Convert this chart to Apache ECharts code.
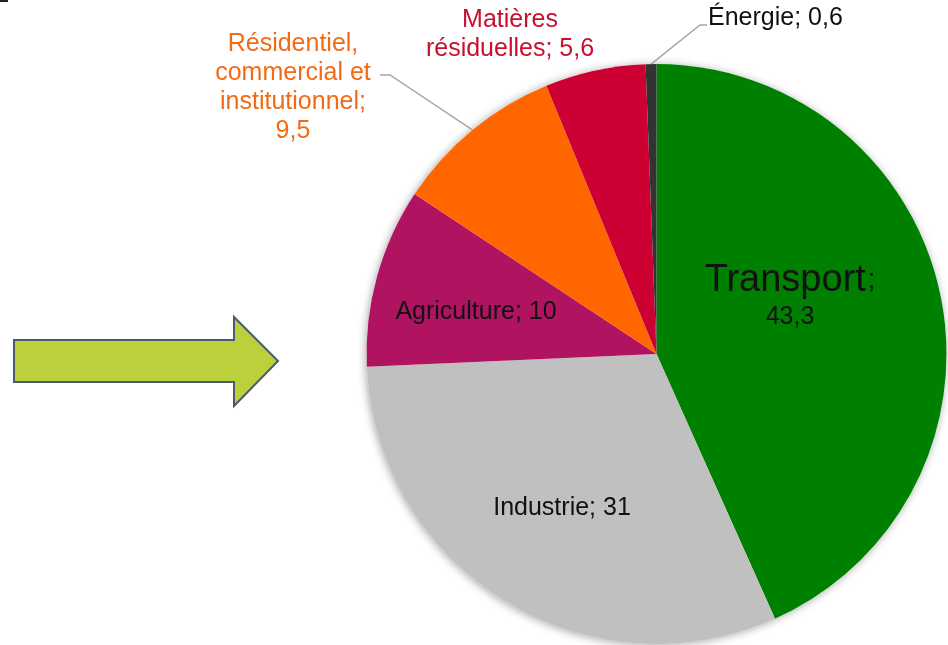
<!DOCTYPE html>
<html>
<head>
<meta charset="utf-8">
<script src="https://cdn.jsdelivr.net/npm/echarts@6/dist/echarts.min.js"></script>
<style>
  html, body { margin: 0; padding: 0; background: #fff; }
  #chart { width: 948px; height: 645px; }
</style>
</head>
<body>
<div id="chart"></div>
<script>
// données (Mt éq. CO2, %)
const categories = ['Transport', 'Industrie', 'Agriculture', 'Résidentiel, commercial et institutionnel', 'Matières résiduelles', 'Énergie'];
const values = [43.3, 31, 10, 9.5, 5.6, 0.6];
const colors = ['#008000', '#C0C0C0', '#B0135F', '#FF6600', '#CC0033', '#333333'];
const labelColors = ['#111', '#111', '#111', '#F46A12', '#C8102E', '#111'];
const outsideIdx = [3, 4, 5];

const FONT = '"Liberation Sans", Arial, sans-serif';

const chart = echarts.init(document.getElementById('chart'), null, { renderer: 'canvas' });

// position des étiquettes (ancre) pour chaque tranche
const labelSpots = {
  0: { x: 790, y: 296, align: 'center' },
  1: { x: 562, y: 508, align: 'center' },
  2: { x: 476, y: 312, align: 'center' },
  3: { x: 293, y: 88, align: 'center' },
  4: { x: 510, y: 35, align: 'center' },
  5: { x: 708, y: 18, align: 'left' },
};

function fmtLabel(p) {
  const v = String(p.value).replace('.', ',');
  if (p.dataIndex === 0) return `{big|${p.name}}{semi|;}\n{num|${v}}`;
  if (p.dataIndex === 3) return p.name.replace(', ', ',\n').replace(' et ', ' et\n') + ';\n' + v;
  if (p.dataIndex === 4) return p.name.replace(' ', '\n') + '; ' + v;
  return p.name + '; ' + v;
}

const pieData = categories.map((name, i) => ({
  name: name,
  value: values[i],
  itemStyle: { color: colors[i] },
  label: {
    position: outsideIdx.indexOf(i) >= 0 ? 'outside' : 'inside',
    color: labelColors[i],
  },
  labelLine: { show: i === 3 || i === 5 },
}));

const option = {
  animation: false,
  graphic: [
    {
      type: 'polygon',
      shape: { points: [[14, 340], [234, 340], [234, 317], [278, 361], [234, 406], [234, 382], [14, 382]] },
      style: { fill: '#BBD03B', stroke: '#4B5A6E', lineWidth: 2 },
    },
    { type: 'rect', shape: { x: 0, y: 0, width: 8, height: 2 }, style: { fill: '#222' } },
  ],
  series: [
    {
      // ombre sous le disque
      type: 'pie',
      silent: true,
      center: [656.5, 354],
      radius: 290,
      z: 1,
      label: { show: false },
      labelLine: { show: false },
      itemStyle: { color: '#fff', shadowBlur: 8, shadowColor: 'rgba(0,0,0,0.35)', shadowOffsetX: -1, shadowOffsetY: 1 },
      data: [{ value: 1 }],
    },
    {
      type: 'pie',
      center: [656.5, 354],
      radius: 290,
      startAngle: 90,
      clockwise: true,
      avoidLabelOverlap: false,
      z: 2,
      itemStyle: { borderWidth: 0 },
      label: {
        show: true,
        fontFamily: FONT,
        fontSize: 25,
        lineHeight: 29,
        align: 'center',
        formatter: fmtLabel,
        rich: {
          big: { fontFamily: FONT, fontSize: 38, lineHeight: 42, color: '#111' },
          semi: { fontFamily: FONT, fontSize: 27, lineHeight: 42, color: '#111', padding: [0, 0, 0, 2] },
          num: { fontFamily: FONT, fontSize: 25, lineHeight: 30, color: '#111' },
        },
      },
      labelLine: {
        show: true,
        length: 20,
        length2: 10,
        lineStyle: { color: '#A6A6A6', width: 1.5 },
      },
      labelLayout: function (params) {
        const s = labelSpots[params.dataIndex];
        const out = { x: s.x, y: s.y, align: s.align, verticalAlign: 'middle' };
        const p0 = params.labelLinePoints && params.labelLinePoints[0];
        if (p0 && params.dataIndex === 3) {
          out.labelLinePoints = [p0, [s.x + 97, s.y - 13], [s.x + 87, s.y - 13]];
        }
        if (p0 && params.dataIndex === 5) {
          out.labelLinePoints = [p0, [s.x - 8, s.y + 7], [s.x - 1, s.y + 7]];
        }
        return out;
      },
      data: pieData,
    },
  ],
};

chart.setOption(option);
</script>
</body>
</html>
